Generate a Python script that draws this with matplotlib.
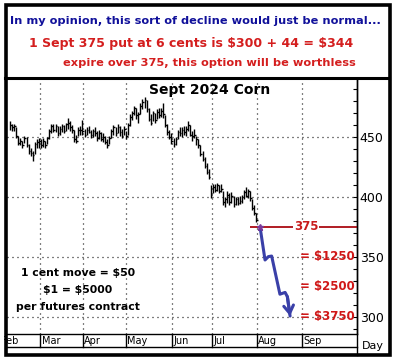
import matplotlib
matplotlib.use('Agg')
import matplotlib.pyplot as plt
from matplotlib.lines import Line2D
from matplotlib.patches import Rectangle
from matplotlib.ticker import MultipleLocator, FixedLocator

# ---------------- data ----------------
highs = [463, 461, 461, 458, 451, 449, 447, 451, 450, 444, 441, 438, 446, 448, 449, 448, 449, 447, 450, 457,
         461, 461, 461, 459, 459, 461, 460, 462, 466, 463, 460, 456, 452, 458, 459, 464, 457, 458, 459, 456,
         457, 458, 455, 456, 454, 453, 451, 448, 451, 457, 460, 458, 461, 459, 457, 459, 455, 462, 469, 472,
         476, 474, 471, 478, 482, 483, 481, 474, 469, 472, 470, 473, 474, 474, 478, 468, 461, 456, 453, 449,
         450, 456, 458, 458, 459, 459, 463, 460, 455, 457, 451, 448, 443, 438, 433, 428, 423, 410, 411, 411,
         412, 410, 411, 405, 400, 405, 403, 404, 401, 400, 400, 401, 402, 406, 408, 407, 405, 398, 393, 387]
lows = [456, 455, 455, 449, 443, 443, 441, 445, 442, 436, 434, 430, 436, 441, 441, 441, 442, 441, 444, 448,
        453, 454, 454, 451, 452, 454, 453, 455, 457, 455, 453, 446, 445, 451, 452, 452, 450, 452, 453, 449,
        450, 451, 447, 448, 447, 446, 444, 441, 444, 449, 452, 451, 453, 451, 449, 452, 448, 452, 459, 464,
        468, 465, 462, 469, 473, 474, 471, 463, 460, 463, 462, 465, 466, 467, 466, 458, 452, 448, 444, 442,
        443, 448, 451, 450, 452, 451, 455, 451, 447, 449, 443, 441, 434, 430, 424, 419, 415, 399, 403, 404,
        405, 403, 404, 393, 392, 395, 393, 395, 392, 393, 393, 394, 395, 398, 400, 399, 397, 389, 385, 379]
closes = [460, 458, 459, 451, 445, 447, 443, 449, 443, 438, 437, 435, 444, 446, 447, 443, 447, 443, 449, 455,
          459, 456, 459, 453, 457, 459, 455, 461, 462, 458, 456, 448, 447, 456, 456, 455, 452, 456, 454, 452,
          455, 453, 449, 453, 448, 450, 446, 443, 449, 455, 458, 453, 458, 454, 451, 457, 451, 460, 467, 470,
          474, 468, 469, 476, 479, 481, 473, 465, 462, 470, 464, 471, 468, 472, 469, 460, 454, 450, 447, 444,
          448, 454, 453, 456, 454, 457, 460, 452, 451, 452, 448, 443, 436, 432, 426, 421, 417, 402, 408, 406,
          410, 405, 407, 396, 398, 402, 396, 401, 394, 398, 395, 397, 400, 404, 401, 405, 399, 391, 387, 381]
bar_idx = list(range(len(highs)))

month_labels = ['Feb', 'Mar', 'Apr', 'May', 'Jun', 'Jul', 'Aug', 'Sep']
month_pos = [-5, 14.5, 35.2, 56, 78.1, 97.4, 119.2, 141.1]

price_ticks = [300, 350, 400, 450]

proj_x = [120.8, 123.2, 124.8, 126.4, 130.4, 132.9, 134.0, 135.3]
proj_y = [375, 347.5, 350.3, 350.8, 319.0, 320.5, 316.9, 300.8]

strike = 375
strike_start = 116
dollar_levels = [350, 325, 300]
dollar_labels = ['= $1250', '= $2500', '= $3750']

# ---------------- figure ----------------
W, H = 397, 364
fig = plt.figure(figsize=(W / 100, H / 100), dpi=100)
fig.patch.set_facecolor('white')


def fx(x):
    return x / W


def fy(y):
    return 1 - y / H


px_per_idx = 2.07
x0_px = 10.0
L, R, T, B = 7, 357, 79, 334
ax = fig.add_axes([fx(L), fy(B), fx(R) - fx(L), fy(T) - fy(B)])
ax.set_xlim((L - x0_px) / px_per_idx, (R - x0_px) / px_per_idx)
ymin = 300 - (B - 317) / 1.2
ymax = 450 + (137 - T) / 1.2
ax.set_ylim(ymin, ymax)
for s in ['left', 'top', 'bottom']:
    ax.spines[s].set_visible(False)
ax.spines['right'].set_linewidth(1.0)
ax.yaxis.tick_right()
ax.yaxis.set_major_locator(FixedLocator(price_ticks))
ax.yaxis.set_minor_locator(MultipleLocator(10))
ax.tick_params(axis='y', which='both', direction='in', length=3, width=0.8, pad=2,
               labelsize=9, colors='black')
ax.set_xticks([])

# grid
for p in price_ticks:
    ax.axhline(p, color='black', lw=0.9, ls=(0, (0.8, 3.2)), zorder=1)
for m in month_pos[1:]:
    ax.axvline(m, color='black', lw=0.9, ls=(0, (0.8, 3.2)), zorder=1)

# bars
ax.vlines(bar_idx, lows, highs, color='black', lw=1.0, zorder=3)
ax.hlines(closes, [i for i in bar_idx], [i + 0.8 for i in bar_idx], color='black', lw=1.0, zorder=3)

# strike line
ax.plot([strike_start, ax.get_xlim()[1]], [strike, strike], color='#b01c24', lw=1.4, zorder=4,
        solid_capstyle='butt')
ax.text(143, strike, '375', color='#c81c1c', fontsize=8.5, fontweight='bold', ha='center', va='center',
        bbox=dict(facecolor='white', edgecolor='none', pad=0.3), zorder=5)

# projection
ax.plot(proj_x, proj_y, color='#3a40a8', lw=2.2, zorder=6, solid_joinstyle='round', solid_capstyle='round')
ax.annotate('', xy=(proj_x[-1], proj_y[-1]), xytext=(proj_x[-2], proj_y[-2]),
            arrowprops=dict(arrowstyle='->,head_length=0.55,head_width=0.35', color='#3a40a8', lw=2.2,
                            shrinkA=0, shrinkB=0), zorder=6)
ax.plot([proj_x[0]], [proj_y[0]], marker='*', color='#7a3a9a', ms=5, zorder=7)

# dollar labels
for lv, lab in zip(dollar_levels, dollar_labels):
    ax.text(0.995, lv, lab, transform=ax.get_yaxis_transform(), color='#d01818', fontsize=8.5,
            fontweight='bold', ha='right', va='center', zorder=5, parse_math=False)

# title and info
fig.text(fx(210), fy(90), 'Sept 2024 Corn', fontsize=10, fontweight='bold', color='black',
         ha='center', va='center')
for txt, yy in zip(['1 cent move = $50', '$1 = $5000', 'per futures contract'], [273, 290, 307]):
    fig.text(fx(78), fy(yy), txt, fontsize=7.8, fontweight='bold', color='black', ha='center', va='center',
             parse_math=False)

# x-axis band
fig.add_artist(Line2D([fx(L), fx(R)], [fy(B), fy(B)], color='black', lw=1.0))
fig.add_artist(Line2D([fx(L), fx(R)], [fy(347), fy(347)], color='black', lw=1.0))
fig.add_artist(Line2D([fx(R), fx(R)], [fy(T), fy(355)], color='black', lw=1.0))
for lab, m in zip(month_labels, month_pos):
    xp = x0_px + m * px_per_idx
    fig.add_artist(Line2D([fx(xp), fx(xp)], [fy(B), fy(347)], color='black', lw=1.0))
    fig.text(fx(xp + 1.5), fy(341), lab, fontsize=7, color='black', ha='left', va='center')
fig.text(fx(373), fy(346), 'Day', fontsize=8, color='black', ha='center', va='center')

# top text box
fig.text(fx(10), fy(20.5), 'In my opinion, this sort of decline would just be normal...', fontsize=8.2,
         fontweight='bold', color='#10109a', ha='left', va='center')
fig.text(fx(29), fy(44), '1 Sept 375 put at 6 cents is $300 + 44 = $344', fontsize=9,
         fontweight='bold', color='#d41e1e', ha='left', va='center', parse_math=False)
fig.text(fx(63), fy(63), 'expire over 375, this option will be worthless', fontsize=8.2,
         fontweight='bold', color='#d41e1e', ha='left', va='center')

# frame
fig.add_artist(Rectangle((0, fy(364)), fx(4), 1, facecolor='white', edgecolor='none', zorder=10))
fig.add_artist(Rectangle((fx(5.5), fy(355)), fx(389.5) - fx(5.5), fy(5) - fy(355), facecolor='none',
                         edgecolor='black', lw=2.6, zorder=11))
fig.add_artist(Line2D([fx(5), fx(389)], [fy(78), fy(78)], color='black', lw=2.2, zorder=11))

fig.savefig('out.png', dpi=100, facecolor='white')
